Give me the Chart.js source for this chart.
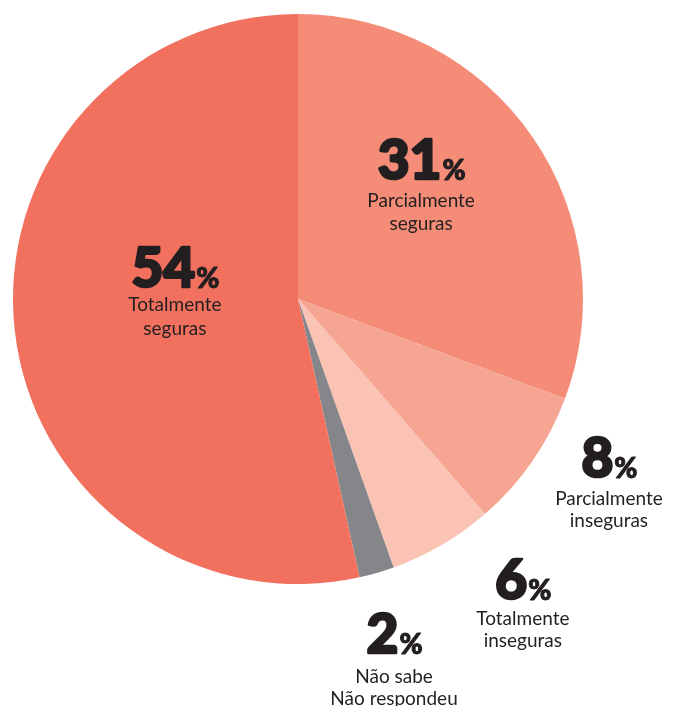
<!DOCTYPE html>
<html><head><meta charset="utf-8">
<script src="https://cdn.jsdelivr.net/npm/chart.js@4/dist/chart.umd.min.js"></script>
<style>html,body{margin:0;padding:0;background:#fff;}canvas{display:block;}</style>
</head><body>
<canvas id="c" width="674" height="706"></canvas>
<script>
const categories = ["Parcialmente seguras", "Parcialmente inseguras", "Totalmente inseguras", "Não sabe / Não respondeu", "Totalmente seguras"];
const values = [31, 8, 6, 2, 54];
const labelLines = [["Parcialmente", "seguras"], ["Parcialmente", "inseguras"], ["Totalmente", "inseguras"], ["Não sabe", "Não respondeu"], ["Totalmente", "seguras"]];
const colors = ["#F48C78", "#F6A592", "#FAC3B4", "#858689", "#F2705E"];

// label anchors relative to pie centre, in units of radius: [dx, dy(number baseline), line1 offset px, line2 offset px]
const anchors = [[0.432, -0.4175, 27, 50], [1.091, 0.628, 27, 49], [0.789, 1.056, 25, 47], [0.337, 1.246, 29, 51], [-0.432, -0.0386, 23, 47]];

const labelPlugin = {
  id: 'labels',
  afterDraw(chart) {
    const ctx = chart.ctx;
    const meta = chart.getDatasetMeta(0);
    meta.data.forEach((arc, i) => {
      const R = arc.outerRadius;
      const cx = arc.x + anchors[i][0] * R;
      const by = arc.y + anchors[i][1] * R;
      ctx.save();
      ctx.fillStyle = '#231F20';
      ctx.strokeStyle = '#231F20';
      ctx.lineJoin = 'round';
      ctx.textBaseline = 'alphabetic';
      const num = String(values[i]);
      ctx.font = '900 55px Lato';
      const wn = ctx.measureText(num).width + 2;
      ctx.font = '900 28px Lato';
      const wp = ctx.measureText('%').width;
      const x0 = cx - (wn + wp) / 2;
      ctx.textAlign = 'left';
      ctx.font = '900 55px Lato';
      ctx.lineWidth = 2.6;
      ctx.fillText(num, x0 + 1, by - 1);
      ctx.strokeText(num, x0 + 1, by - 1);
      ctx.font = '900 28px Lato';
      ctx.lineWidth = 1;
      ctx.fillText('%', x0 + wn, by);
      ctx.strokeText('%', x0 + wn, by);
      ctx.textAlign = 'center';
      ctx.font = '19px Lato';
      ctx.fillText(labelLines[i][0], cx, by + anchors[i][2]);
      ctx.fillText(labelLines[i][1], cx, by + anchors[i][3]);
      ctx.restore();
    });
  }
};

new Chart(document.getElementById('c'), {
  type: 'pie',
  data: {
    labels: categories,
    datasets: [{ data: values, backgroundColor: colors, borderWidth: 0 }]
  },
  options: {
    responsive: false,
    devicePixelRatio: 1,
    animation: false,
    layout: { padding: { left: 13, top: 14, right: 91, bottom: 122 } },
    plugins: { legend: { display: false }, tooltip: { enabled: false } }
  },
  plugins: [labelPlugin]
});
</script>
</body></html>
